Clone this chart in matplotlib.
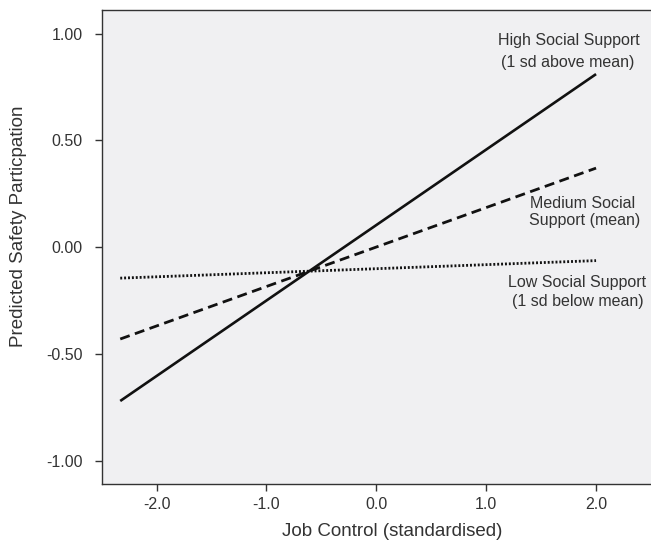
import matplotlib
matplotlib.use("Agg")
from matplotlib import pyplot as plt

plt.rcParams['font.family'] = ['Liberation Sans', 'DejaVu Sans']

# job control (standardised) endpoints
job_control = [-2.33, 2.0]
high_support = [-0.72, 0.81]
medium_support = [-0.43, 0.37]
low_support = [-0.145, -0.063]

xticks = [-2.0, -1.0, 0.0, 1.0, 2.0]
yticks = [-1.0, -0.5, 0.0, 0.5, 1.0]

txt = '#333333'

fig = plt.figure(figsize=(6.51, 5.41), dpi=100)
ax = fig.add_axes([0.156, 0.1048, 0.844, 0.8767])
ax.set_facecolor('#f0f0f2')

ax.plot(job_control, high_support, color='#111111', linewidth=1.9, solid_capstyle='butt')
ax.plot(job_control, medium_support, color='#111111', linewidth=2.0, linestyle=(0, (3.6, 2.0)))
ax.plot(job_control, low_support, color='#111111', linewidth=2.0, linestyle=(0, (0.7, 0.7)))

fs = 11.5
ax.text(1.757, 0.969, "High Social Support", ha='center', va='center', fontsize=fs, color=txt)
ax.text(1.739, 0.864, "(1 sd above mean)", ha='center', va='center', fontsize=fs, color=txt)
ax.text(1.876, 0.203, "Medium Social", ha='center', va='center', fontsize=fs, color=txt)
ax.text(1.894, 0.123, "Support (mean)", ha='center', va='center', fontsize=fs, color=txt)
ax.text(1.83, -0.167, "Low Social Support", ha='center', va='center', fontsize=fs, color=txt)
ax.text(1.83, -0.256, "(1 sd below mean)", ha='center', va='center', fontsize=fs, color=txt)

ax.set_xlim(-2.5, 2.5)
ax.set_ylim(-1.11, 1.11)
ax.set_xticks(xticks)
ax.set_xticklabels(["%.1f" % v for v in xticks])
ax.set_yticks(yticks)
ax.set_yticklabels(["%.2f" % v for v in yticks])
ax.tick_params(direction='out', length=4.8, width=1, color='#333333', labelcolor=txt, labelsize=11.5)
ax.tick_params(axis='y', pad=9)
ax.tick_params(axis='x', pad=4)

ax.spines['right'].set_visible(False)
for s in ['left', 'bottom', 'top']:
    ax.spines[s].set_color('#333333')
    ax.spines[s].set_linewidth(1)

ax.set_xlabel("Job Control (standardised)", fontsize=13.5, color=txt, labelpad=8)
ax.xaxis.label.set_x(0.5285)
ax.set_ylabel("Predicted Safety Particpation", fontsize=13.5, color=txt)
ax.yaxis.set_label_coords(-0.136, 0.5435)

plt.savefig("out.png", dpi=100)
